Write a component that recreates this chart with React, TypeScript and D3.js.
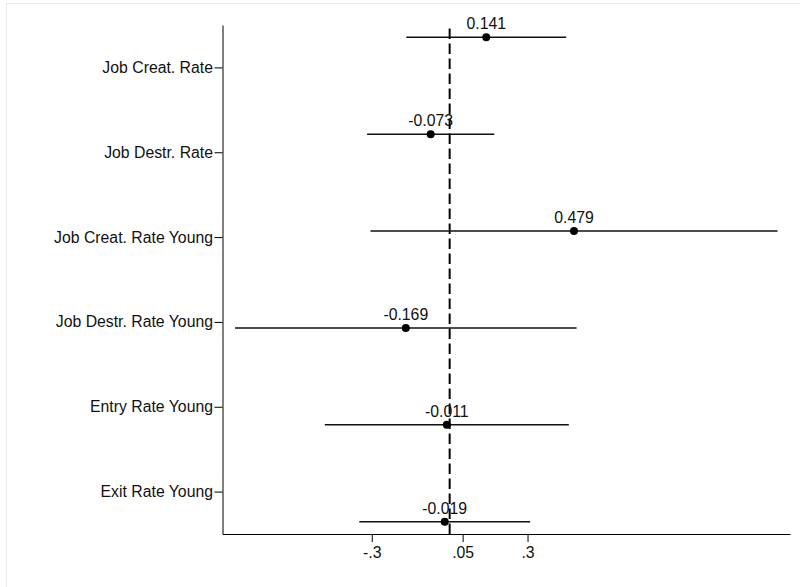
import * as d3 from 'd3'
import { useEffect, useRef } from 'react'

const categories = [
  'Job Creat. Rate',
  'Job Destr. Rate',
  'Job Creat. Rate Young',
  'Job Destr. Rate Young',
  'Entry Rate Young',
  'Exit Rate Young',
]
const estimates = [0.141, -0.073, 0.479, -0.169, -0.011, -0.019]
const ciLower = [-0.167, -0.318, -0.305, -0.827, -0.481, -0.348]
const ciUpper = [0.449, 0.172, 1.263, 0.489, 0.459, 0.31]
const xTickValues = [-0.3, 0.05, 0.3]
const xTickLabels = ['-.3', '.05', '.3']

const WIDTH = 800
const HEIGHT = 587
const MARGIN = { TOP: 25, RIGHT: 10, BOTTOM: 53, LEFT: 222.5 }
const FONT = '"Liberation Sans", Arial, sans-serif'
const FONT_SIZE = 15.8

const drawCoefPlot = (node: SVGSVGElement) => {
  const svg = d3.select(node)
  svg.selectAll('*').remove()

  const rows = categories.map((c, i) => ({
    name: c,
    est: estimates[i],
    lo: ciLower[i],
    hi: ciUpper[i],
  }))

  const pad = 0.048
  const x = d3.scaleLinear()
    .domain([d3.min(ciLower)! - pad, d3.max(ciUpper)! + pad])
    .range([MARGIN.LEFT, WIDTH - MARGIN.RIGHT])

  // labels sit at band centres, markers are spread closer to the edges
  const yLabel = d3.scalePoint()
    .domain(categories)
    .range([MARGIN.TOP, HEIGHT - MARGIN.BOTTOM])
    .padding(0.5)
  const yPoint = d3.scalePoint()
    .domain(categories)
    .range([MARGIN.TOP, HEIGHT - MARGIN.BOTTOM])
    .padding(0.127)

  // faint outer frame
  svg.append('rect')
    .attr('x', 6.5)
    .attr('y', 3.5)
    .attr('width', WIDTH)
    .attr('height', HEIGHT)
    .attr('fill', 'none')
    .attr('stroke', '#e4ecee')

  // y axis
  const yAxis = svg.append('g')
    .attr('transform', `translate(${MARGIN.LEFT},0)`)
    .call(d3.axisLeft(yLabel).tickSize(8).tickSizeOuter(0).tickPadding(1.5))
  yAxis.select('.domain').attr('stroke', '#000')
  yAxis.selectAll('.tick line').attr('stroke', '#000')
  yAxis.selectAll('.tick text')
    .attr('font-family', FONT)
    .attr('font-size', FONT_SIZE)
    .attr('fill', '#111')

  // x axis
  const xAxis = svg.append('g')
    .attr('transform', `translate(0,${HEIGHT - MARGIN.BOTTOM})`)
    .call(d3.axisBottom(x)
      .tickValues(xTickValues)
      .tickFormat((d, i) => xTickLabels[i])
      .tickSize(8)
      .tickSizeOuter(0)
      .tickPadding(5))
  xAxis.select('.domain').attr('stroke', '#000')
  xAxis.selectAll('.tick line').attr('stroke', '#000')
  xAxis.selectAll('.tick text')
    .attr('font-family', FONT)
    .attr('font-size', FONT_SIZE)
    .attr('fill', '#111')

  // zero reference line
  svg.append('line')
    .attr('x1', x(0))
    .attr('x2', x(0))
    .attr('y1', HEIGHT - MARGIN.BOTTOM)
    .attr('y2', MARGIN.TOP)
    .attr('stroke', '#000')
    .attr('stroke-width', 2)
    .attr('stroke-dasharray', '10.5,4.5')

  const g = svg.append('g')

  g.selectAll('line.ci')
    .data(rows)
    .join('line')
    .attr('class', 'ci')
    .attr('x1', d => x(d.lo))
    .attr('x2', d => x(d.hi))
    .attr('y1', d => yPoint(d.name)!)
    .attr('y2', d => yPoint(d.name)!)
    .attr('stroke', '#111')
    .attr('stroke-width', 1.6)

  g.selectAll('circle')
    .data(rows)
    .join('circle')
    .attr('cx', d => x(d.est))
    .attr('cy', d => yPoint(d.name)!)
    .attr('r', 4)
    .attr('fill', '#000')

  g.selectAll('text')
    .data(rows)
    .join('text')
    .attr('x', d => x(d.est))
    .attr('y', d => yPoint(d.name)! - 8)
    .attr('text-anchor', 'middle')
    .attr('font-family', FONT)
    .attr('font-size', FONT_SIZE)
    .attr('fill', '#111')
    .text(d => d.est.toFixed(3))
}

export default function App() {
  const ref = useRef<SVGSVGElement>(null)

  useEffect(() => {
    if (ref.current) drawCoefPlot(ref.current)
  }, [])

  return (
    <svg
      ref={ref}
      width={WIDTH}
      height={HEIGHT}
      style={{ position: 'absolute', left: 0, top: 0, background: '#fff' }}
    />
  )
}
